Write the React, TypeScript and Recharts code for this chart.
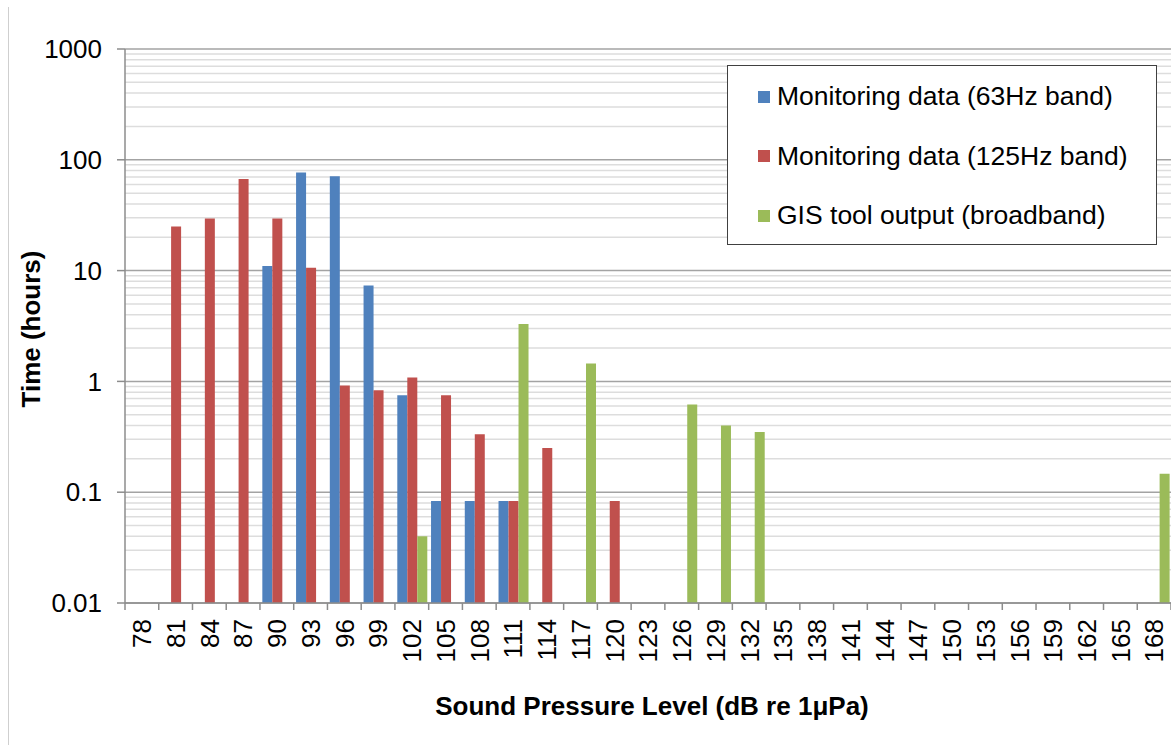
import React from 'react';
import { BarChart, Bar, XAxis, YAxis, CartesianGrid, Legend, Label } from 'recharts';

const FONT = "'Liberation Sans', Arial, Helvetica, sans-serif";

const categories = ['78', '81', '84', '87', '90', '93', '96', '99', '102', '105', '108', '111', '114', '117', '120', '123', '126', '129', '132', '135', '138', '141', '144', '147', '150', '153', '156', '159', '162', '165', '168'];

const monitoring63Hz = [null, null, null, null, 11, 77, 71, 7.33, 0.75, 0.0833, 0.0833, 0.0833, null, null, null, null, null, null, null, null, null, null, null, null, null, null, null, null, null, null, null];

const monitoring125Hz = [null, 25, 29.5, 67, 29.5, 10.6, 0.917, 0.833, 1.083, 0.75, 0.333, 0.0833, 0.25, null, 0.0833, null, null, null, null, null, null, null, null, null, null, null, null, null, null, null, null];

const gisBroadband = [null, null, null, null, null, null, null, null, 0.04, null, null, 3.3, null, 1.45, null, null, 0.62, 0.4, 0.35, null, null, null, null, null, null, null, null, null, null, null, 0.147];

const seriesNames = ['Monitoring data (63Hz band)', 'Monitoring data (125Hz band)', 'GIS tool output (broadband)'];
const seriesColors = ['#4F81BD', '#C0504D', '#9BBB59'];

const yTicks = [0.01, 0.1, 1, 10, 100, 1000];
const minorMultipliers = [2, 3, 4, 5, 6, 7, 8, 9];
const minorGridValues = yTicks.slice(0, -1).flatMap((d) => minorMultipliers.map((m) => d * m));

const data = categories.map((spl, i) => ({
  spl,
  m63: monitoring63Hz[i],
  m125: monitoring125Hz[i],
  gis: gisBroadband[i],
}));

const AXIS_GRAY = '#8c8c8c';

const XTick = (props: any) => {
  const { x, y, payload, index, visibleTicksCount } = props;
  const half = payload && typeof payload.offset === 'number' ? payload.offset : 0;
  const axisY = y - 16;
  const isLast = index === (visibleTicksCount ?? categories.length) - 1;
  return (
    <g>
      <line x1={x - half} x2={x - half} y1={axisY} y2={axisY + 7} stroke={AXIS_GRAY} strokeWidth={1.5} />
      {isLast && <line x1={x + half} x2={x + half} y1={axisY} y2={axisY + 7} stroke={AXIS_GRAY} strokeWidth={1.5} />}
      <text
        x={x}
        y={y}
        dy="0.36em"
        transform={`rotate(-90, ${x}, ${y})`}
        textAnchor="end"
        fontSize={26}
        fontFamily={FONT}
        fill="#000"
      >
        {payload.value}
      </text>
    </g>
  );
};

const renderLegend = () => (
  <div
    style={{
      boxSizing: 'border-box',
      width: 430,
      height: 180,
      border: '1.5px solid #404040',
      background: '#fff',
      paddingTop: 1,
      fontFamily: FONT,
    }}
  >
    {seriesNames.map((name, i) => (
      <div key={name} style={{ height: 59.5, display: 'flex', alignItems: 'center' }}>
        <div style={{ width: 12, height: 12, background: seriesColors[i], marginLeft: 30 }} />
        <span style={{ marginLeft: 7, fontSize: 26.5, color: '#000', whiteSpace: 'nowrap' }}>{name}</span>
      </div>
    ))}
  </div>
);

export default function App() {
  return (
    <div style={{ position: 'relative', width: 1171, height: 745, overflow: 'hidden', background: '#fff' }}>
      <style>{`body{margin:0;overflow:hidden;background:#fff}`}</style>
      <div style={{ position: 'absolute', left: 8, top: 7, bottom: 0, width: 1, background: '#cfcfcf' }} />
      <BarChart
        width={1180}
        height={745}
        data={data}
        margin={{ top: 49, right: 9, bottom: 0, left: 0 }}
        barCategoryGap="7%"
        barGap={0}
      >
        <CartesianGrid vertical={false} stroke="#dddddd" strokeWidth={1.5} horizontalValues={minorGridValues} />
        <CartesianGrid vertical={false} stroke="#a3a3a3" strokeWidth={1.5} />
        <XAxis
          dataKey="spl"
          interval={0}
          height={142}
          tickLine={false}
          tickSize={7}
          tickMargin={9}
          axisLine={{ stroke: AXIS_GRAY, strokeWidth: 1.5 }}
          tick={<XTick />}
        >
          <Label
            content={({ viewBox }: any) => (
              <text
                x={viewBox.x + viewBox.width / 2 + 4}
                y={viewBox.y + 103}
                dominantBaseline="central"
                textAnchor="middle"
                fontSize={26}
                fontWeight="bold"
                fontFamily={FONT}
                fill="#000"
              >
                Sound Pressure Level (dB re 1μPa)
              </text>
            )}
          />
        </XAxis>
        <YAxis
          type="number"
          scale="log"
          domain={[0.01, 1000]}
          ticks={yTicks}
          interval={0}
          allowDataOverflow
          width={125}
          tickSize={8}
          tickMargin={15}
          axisLine={{ stroke: AXIS_GRAY, strokeWidth: 1.5 }}
          tickLine={{ stroke: AXIS_GRAY, strokeWidth: 1.5 }}
          tick={{ fontSize: 26, fill: '#000', fontFamily: FONT }}
          tickFormatter={(v: number) => String(v)}
        >
          <Label
            content={({ viewBox }: any) => {
              const cx = 31;
              const cy = viewBox.y + viewBox.height / 2 + 3;
              return (
                <text
                  x={cx}
                  y={cy}
                  transform={`rotate(-90, ${cx}, ${cy})`}
                  dominantBaseline="central"
                  textAnchor="middle"
                  fontSize={26}
                  fontWeight="bold"
                  fontFamily={FONT}
                  fill="#000"
                >
                  Time (hours)
                </text>
              );
            }}
          />
        </YAxis>
        <Legend
          layout="vertical"
          align="center"
          verticalAlign="middle"
          wrapperStyle={{ top: 65, left: 727, width: 430, height: 180 }}
          content={renderLegend}
        />
        <Bar dataKey="m63" name={seriesNames[0]} fill={seriesColors[0]} isAnimationActive={false} />
        <Bar dataKey="m125" name={seriesNames[1]} fill={seriesColors[1]} isAnimationActive={false} />
        <Bar dataKey="gis" name={seriesNames[2]} fill={seriesColors[2]} isAnimationActive={false} />
      </BarChart>
    </div>
  );
}
